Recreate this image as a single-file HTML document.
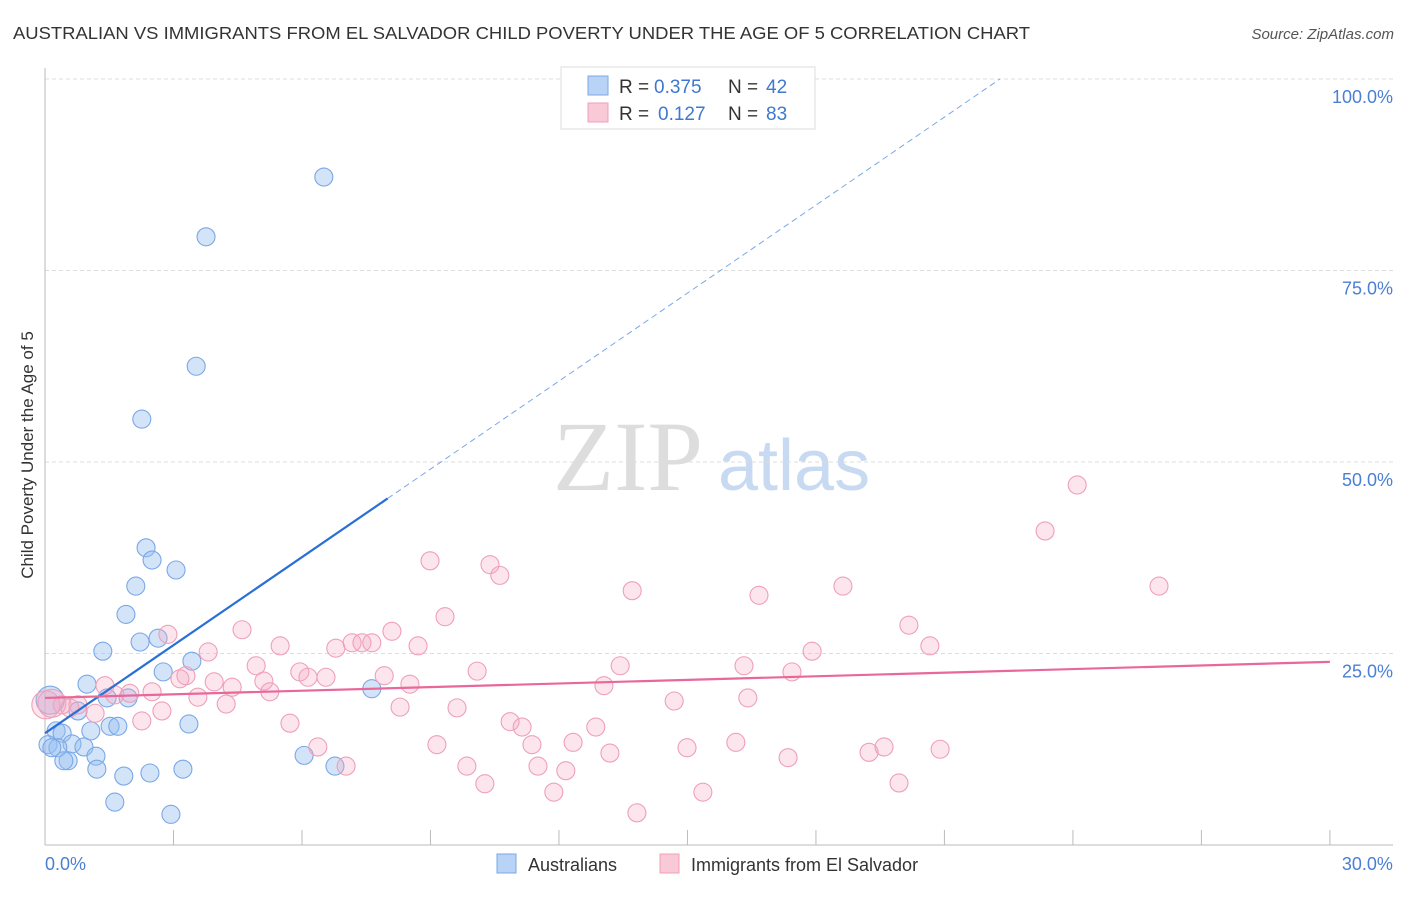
<!DOCTYPE html>
<html><head><meta charset="utf-8"><style>
body{margin:0;background:#fff;font-family:"Liberation Sans",sans-serif}
svg text{font-family:"Liberation Sans",sans-serif}
</style></head><body>
<svg id="chart" width="1406" height="892" xmlns="http://www.w3.org/2000/svg">
<text x="13" y="39" font-size="17.5" fill="#333" textLength="1017" lengthAdjust="spacingAndGlyphs">AUSTRALIAN VS IMMIGRANTS FROM EL SALVADOR CHILD POVERTY UNDER THE AGE OF 5 CORRELATION CHART</text>
<text x="1394" y="39" font-size="15" fill="#555" text-anchor="end" font-style="italic">Source: ZipAtlas.com</text>
<text x="553" y="490" font-size="100" fill="#ddd" font-family="Liberation Serif" style="font-family:'Liberation Serif',serif">ZIP</text>
<text x="718" y="490" font-size="72" fill="#c8daf2">atlas</text>
<text transform="translate(33,455) rotate(-90)" font-size="17" fill="#333" text-anchor="middle">Child Poverty Under the Age of 5</text>
<g id="grid"></g><g id="pts"></g><g id="lines"></g>
<g>
<rect x="561" y="67" width="254" height="62" fill="#fff" stroke="#ddd"/>
<rect x="588" y="76" width="20" height="19" fill="#b8d3f5" stroke="#7aa8e6"/>
<rect x="588" y="103" width="20" height="19" fill="#f9c9d7" stroke="#eea0b8"/>
<text x="619" y="93" font-size="19" fill="#333">R =</text>
<text x="654" y="93" font-size="19" fill="#3f78d0">0.375</text>
<text x="728" y="93" font-size="19" fill="#333">N =</text>
<text x="766" y="93" font-size="19" fill="#3f78d0">42</text>
<text x="619" y="120" font-size="19" fill="#333">R =</text>
<text x="658" y="120" font-size="19" fill="#3f78d0">0.127</text>
<text x="728" y="120" font-size="19" fill="#333">N =</text>
<text x="766" y="120" font-size="19" fill="#3f78d0">83</text>
</g>
<g>
<rect x="497" y="854" width="19" height="19" fill="#b8d3f5" stroke="#7aa8e6"/>
<text x="528" y="871" font-size="18" fill="#333">Australians</text>
<rect x="660" y="854" width="19" height="19" fill="#f9c9d7" stroke="#eea0b8"/>
<text x="691" y="871" font-size="18" fill="#333">Immigrants from El Salvador</text>
</g>
</svg>
<script>
const xTicks=[0,3,6,9,12,15,18,21,24,27,30];
const yTicks=[25,50,75,100];
const yTickLabels=["25.0%","50.0%","75.0%","100.0%"];
const xEndLabels=["0.0%","30.0%"];
const blueX=[6.51,3.76,3.53,2.26,2.36,2.50,3.06,2.12,1.89,2.64,2.22,1.35,3.43,2.76,0.98,7.63,1.45,1.94,0.77,3.36,1.52,1.70,0.26,1.07,0.40,0.07,0.63,0.91,0.30,1.19,0.54,0.44,6.05,6.77,1.21,3.22,2.45,1.84,1.63,2.94,0.12,0.16];
const blueY=[87.2,79.4,62.5,55.6,38.8,37.2,35.9,33.8,30.1,27.0,26.5,25.3,24.0,22.6,21.0,20.4,19.2,19.2,17.5,15.8,15.5,15.5,14.9,14.9,14.6,13.1,13.2,12.8,12.7,11.6,11.0,11.0,11.7,10.3,9.9,9.9,9.4,9.0,5.6,4.0,18.9,12.7];
const pinkX=[0.02,0.40,0.77,0.16,0.58,1.17,1.40,1.63,1.98,2.26,2.50,2.73,2.87,3.15,3.29,3.57,3.81,3.95,4.23,4.37,4.60,4.93,5.11,5.25,5.49,5.72,5.95,6.14,6.37,6.56,6.79,7.03,7.17,7.40,7.63,7.92,8.10,8.29,8.52,8.71,8.99,9.15,9.34,9.62,9.85,10.09,10.27,10.39,10.62,10.86,11.14,11.37,11.51,11.88,12.16,12.33,12.86,13.05,13.19,13.43,13.71,13.82,14.69,14.99,15.36,16.13,16.32,16.41,16.67,17.35,17.44,17.91,18.63,19.24,19.59,19.94,20.17,20.66,20.90,23.35,24.10,26.01];
const pinkY=[18.3,18.3,18.3,18.5,17.9,17.2,20.8,19.6,19.8,16.2,20.0,17.5,27.5,21.7,22.1,19.3,25.2,21.3,18.4,20.6,28.1,23.4,21.4,20.0,26.0,15.9,22.6,21.9,12.8,21.9,25.7,10.3,26.4,26.4,26.4,22.1,27.9,18.0,21.0,26.0,37.1,13.1,29.8,17.9,10.3,22.7,8.0,36.6,35.2,16.1,15.4,13.1,10.3,6.9,9.7,13.4,15.4,20.8,12.0,23.4,33.2,4.2,18.8,12.7,6.9,13.4,23.4,19.2,32.6,11.4,22.6,25.3,33.8,12.1,12.8,8.1,28.7,26.0,12.5,41.0,47.0,33.8];
const blueLine=[14.6,3.83]; // intercept, slope
const pinkLine=[19.2,0.157];
const NS="http://www.w3.org/2000/svg";
const sx=v=>45+v*42.83, sy=v=>845-v*7.66;
function mk(tag,attrs,parent){const e=document.createElementNS(NS,tag);for(const k in attrs)e.setAttribute(k,attrs[k]);document.getElementById(parent).appendChild(e);return e;}
yTicks.forEach((t,i)=>{
 const g=mk('line',{x1:45,x2:1393,y1:sy(t),y2:sy(t),stroke:'#ddd','stroke-dasharray':'4,3'},'grid');
 
 
 const tx=mk('text',{x:1393,y:sy(t)+24,'font-size':18,fill:'#4a7fd4','text-anchor':'end'},'grid');
 tx.textContent=yTickLabels[i];
 
 
});
mk('line',{x1:45,x2:45,y1:68,y2:845,stroke:'#bbb'},'grid');
mk('line',{x1:45,x2:1393,y1:845,y2:845,stroke:'#bbb'},'grid');
xTicks.forEach(t=>{const l=mk('line',{x1:sx(t),x2:sx(t),y1:830,y2:845,stroke:'#bbb'},'grid');
 
 });
[[0,'start'],[30,'end']].forEach((p,i)=>{const t=mk('text',{x:sx(p[0])+(i?63:0),y:870,'font-size':18,fill:'#4a7fd4','text-anchor':p[1]},'grid');t.textContent=xEndLabels[i];
 
 });
function pts(X,Y,fill,stroke,name){X.forEach((x,i)=>{const big=(x<0.2&&Y[i]>17&&Y[i]<20);
 const c=mk('circle',{cx:sx(x),cy:sy(Y[i]),r:big?14:9,fill:fill,stroke:stroke,'stroke-width':1.1},'pts');
 
 });}
pts(blueX,blueY,'rgba(150,190,240,0.42)','#7aa8e6','australians-point');
pts(pinkX,pinkY,'rgba(245,170,195,0.3)','#eea0b8','el-salvador-point');
const bx2=8.0, bx3=(100-blueLine[0])/blueLine[1];
let l=mk('line',{x1:sx(0),y1:sy(blueLine[0]),x2:sx(bx2),y2:sy(blueLine[0]+blueLine[1]*bx2),stroke:'#2a6fd6','stroke-width':2.2},'lines');


l=mk('line',{x1:sx(bx2),y1:sy(blueLine[0]+blueLine[1]*bx2),x2:sx(bx3),y2:sy(100),stroke:'#7aa8e6','stroke-width':1,'stroke-dasharray':'6,4'},'lines');


l=mk('line',{x1:sx(0),y1:sy(pinkLine[0]),x2:sx(30),y2:sy(pinkLine[0]+pinkLine[1]*30),stroke:'#e8689a','stroke-width':2.2},'lines');


</script>
</body></html>
